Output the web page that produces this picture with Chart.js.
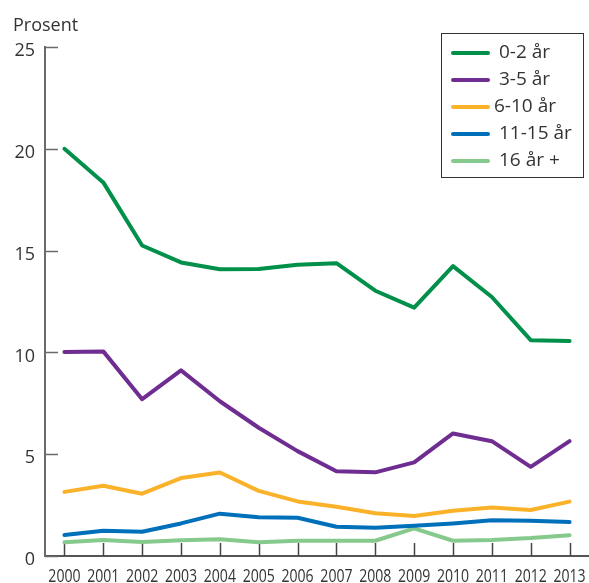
<!DOCTYPE html>
<html>
<head>
<meta charset="utf-8">
<script src="https://cdn.jsdelivr.net/npm/chart.js@4/dist/chart.umd.min.js"></script>
<style>
  html, body { margin: 0; padding: 0; background: #fff; }
  #wrap { position: relative; width: 589px; height: 583px; }
</style>
</head>
<body>
<div id="wrap"><canvas id="c" width="589" height="583"></canvas></div>
<script>
// Andel (prosent) etter aldersgruppe, 2000-2013
const YEARS = ['2000', '2001', '2002', '2003', '2004', '2005', '2006', '2007', '2008', '2009', '2010', '2011', '2012', '2013'];
const AGE_0_2 = [20.0, 18.35, 15.25, 14.42, 14.08, 14.1, 14.3, 14.38, 13.03, 12.2, 14.24, 12.72, 10.6, 10.56];
const AGE_3_5 = [10.02, 10.05, 7.7, 9.12, 7.6, 6.3, 5.15, 4.16, 4.11, 4.6, 6.02, 5.64, 4.38, 5.64];
const AGE_6_10 = [3.15, 3.45, 3.06, 3.83, 4.1, 3.2, 2.68, 2.42, 2.1, 1.96, 2.22, 2.38, 2.26, 2.67];
const AGE_11_15 = [1.03, 1.24, 1.19, 1.6, 2.08, 1.9, 1.88, 1.44, 1.39, 1.48, 1.6, 1.76, 1.73, 1.67];
const AGE_16 = [0.67, 0.79, 0.69, 0.77, 0.82, 0.67, 0.75, 0.75, 0.75, 1.36, 0.75, 0.79, 0.88, 1.02];
const Y_TICKS = [0, 5, 10, 15, 20, 25];

const textColor = '#333';
const axisColor = '#6a6a6a';
const baseFont = "'Open Sans', 'Noto Sans', sans-serif";

function series(label, data, color) {
  return {
    label, data, borderColor: color, backgroundColor: color,
    borderWidth: 4, pointRadius: 0, tension: 0,
    borderCapStyle: 'round', borderJoinStyle: 'round'
  };
}

const insideTicks = {
  id: 'insideTicks',
  beforeDatasetsDraw(chart) {
    const ctx = chart.ctx;
    const x = chart.scales.x, y = chart.scales.y;
    ctx.save();
    ctx.lineWidth = 1.5;
    ctx.strokeStyle = axisColor;
    Y_TICKS.forEach(v => {
      const py = Math.round(y.getPixelForValue(v)) + 0.5;
      ctx.beginPath();
      ctx.moveTo(x.left, py);
      ctx.lineTo(x.left + 13, py);
      ctx.stroke();
    });
    ctx.strokeStyle = '#444';
    YEARS.forEach((_, i) => {
      const px = Math.round(x.getPixelForValue(i)) + 0.5;
      ctx.beginPath();
      ctx.moveTo(px, y.bottom);
      ctx.lineTo(px, y.bottom - 13);
      ctx.stroke();
    });
    // condensed year labels (the original uses a narrow face)
    ctx.font = '19px ' + baseFont;
    ctx.fillStyle = textColor;
    ctx.textAlign = 'center';
    ctx.textBaseline = 'alphabetic';
    chart.data.labels.forEach((lab, i) => {
      const px = x.getPixelForValue(i);
      ctx.save();
      ctx.translate(px, 582);
      ctx.scale(0.74, 1);
      ctx.fillText(lab, 0, 0);
      ctx.restore();
    });
    // y-axis title
    ctx.font = '18px ' + baseFont;
    ctx.textAlign = 'left';
    ctx.fillText('Prosent', 13, 31);
    ctx.restore();
  }
};

const boxLegend = {
  id: 'boxLegend',
  afterDraw(chart) {
    const ctx = chart.ctx;
    ctx.save();
    ctx.fillStyle = '#fff';
    ctx.fillRect(441, 33, 142, 144);
    ctx.strokeStyle = '#333';
    ctx.lineWidth = 1;
    ctx.strokeRect(441.5, 33.5, 142, 144);
    ctx.font = '19px ' + baseFont;
    ctx.textBaseline = 'middle';
    ctx.textAlign = 'left';
    chart.data.datasets.forEach((ds, i) => {
      const cy = 53 + i * 27;
      ctx.strokeStyle = ds.borderColor;
      ctx.lineWidth = 4;
      ctx.lineCap = 'round';
      ctx.beginPath();
      ctx.moveTo(453, cy);
      ctx.lineTo(488, cy);
      ctx.stroke();
      ctx.fillStyle = textColor;
      ctx.fillText(ds.label, i === 2 ? 494 : 499, cy);
    });
    ctx.restore();
  }
};

new Chart(document.getElementById('c'), {
  type: 'line',
  data: {
    labels: YEARS,
    datasets: [
      series('0-2 år', AGE_0_2, '#00904a'),
      series('3-5 år', AGE_3_5, '#6f2c91'),
      series('6-10 år', AGE_6_10, '#fbb22b'),
      series('11-15 år', AGE_11_15, '#0070bb'),
      series('16 år +', AGE_16, '#86c98c')
    ]
  },
  options: {
    responsive: false,
    animation: false,
    layout: { padding: { top: 47, left: 0, right: 0, bottom: 0 } },
    plugins: { legend: { display: false }, tooltip: { enabled: false } },
    scales: {
      x: {
        offset: true,
        grid: { display: false, drawTicks: false },
        border: { display: true, color: '#555', width: 2 },
        ticks: { display: false },
        afterFit: s => { s.height = 27; }
      },
      y: {
        min: 0, max: 25,
        grid: { display: false, drawTicks: false },
        border: { display: true, color: axisColor, width: 2 },
        ticks: {
          stepSize: 5, font: { size: 18, family: baseFont },
          color: textColor, padding: 10, labelOffset: 4
        },
        afterFit: s => { s.width = 45; }
      }
    }
  },
  plugins: [insideTicks, boxLegend]
});
</script>
</body>
</html>
